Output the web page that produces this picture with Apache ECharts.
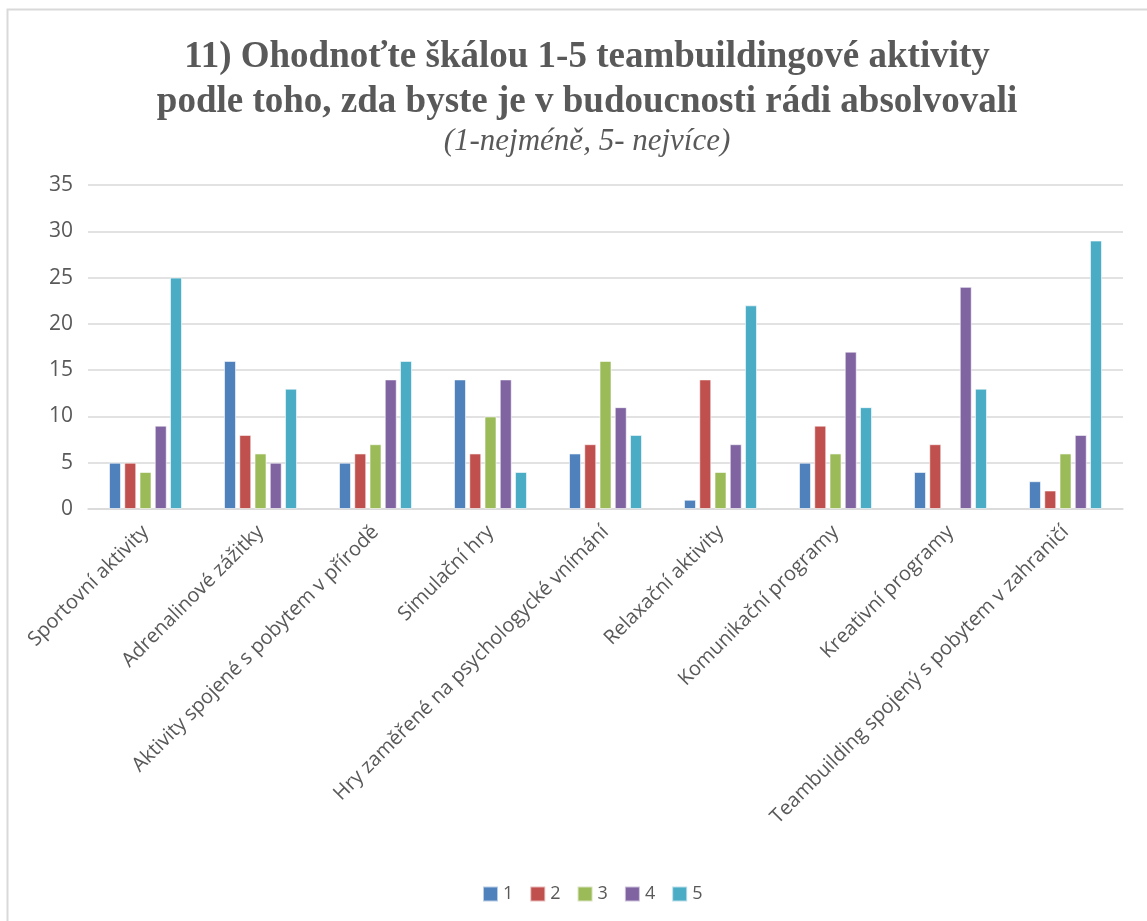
<!DOCTYPE html>
<html>
<head>
<meta charset="utf-8">
<script src="https://cdn.jsdelivr.net/npm/echarts@6/dist/echarts.min.js"></script>
<style>
  html, body { margin: 0; padding: 0; background: #ffffff; }
  #chart { width: 1147px; height: 921px; }
</style>
</head>
<body>
<div id="chart"></div>
<script>
// Activity categories (x axis)
const categories = [
  'Sportovní aktivity',
  'Adrenalinové zážitky',
  'Aktivity spojené s pobytem v přírodě',
  'Simulační hry',
  'Hry zaměřené na psychologycké vnímání',
  'Relaxační aktivity',
  'Komunikační programy',
  'Kreativní programy',
  'Teambuilding spojený s pobytem v zahraničí'
];

// Number of answers per rating (1 = least, 5 = most)
const rating1 = [5, 16, 5, 14, 6, 1, 5, 4, 3];
const rating2 = [5, 8, 6, 6, 7, 14, 9, 7, 2];
const rating3 = [4, 6, 7, 10, 16, 4, 6, null, 6];
const rating4 = [9, 5, 14, 14, 11, 7, 17, 24, 8];
const rating5 = [25, 13, 16, 4, 8, 22, 11, 13, 29];

const seriesNames = ['1', '2', '3', '4', '5'];
const seriesColors = ['#4F81BD', '#C0504D', '#9BBB59', '#8064A2', '#4BACC6'];
const seriesData = [rating1, rating2, rating3, rating4, rating5];

const chart = echarts.init(document.getElementById('chart'), null, { renderer: 'canvas' });

const axisFont = '"Open Sans", "DejaVu Sans", sans-serif';
const serifFont = '"Liberation Serif", "Times New Roman", serif';
const textGray = '#595959';

chart.setOption({
  backgroundColor: '#ffffff',
  animation: false,
  color: seriesColors,
  title: {
    text: '11) Ohodnoťte škálou 1-5 teambuildingové aktivity\npodle toho, zda byste je v budoucnosti rádi absolvovali',
    subtext: '(1-nejméně, 5- nejvíce)',
    left: 582,
    top: 30,
    textAlign: 'center',
    itemGap: 0,
    textStyle: {
      fontFamily: serifFont,
      fontWeight: 'bold',
      fontSize: 37,
      lineHeight: 45,
      color: textGray
    },
    subtextStyle: {
      fontFamily: serifFont,
      fontStyle: 'italic',
      fontSize: 31,
      lineHeight: 34,
      color: textGray
    }
  },
  graphic: [{
    type: 'rect',
    silent: true,
    shape: { x: 7.5, y: 9.5, width: 1160, height: 930 },
    style: { fill: 'none', stroke: '#d9d9d9', lineWidth: 2 }
  }],
  legend: {
    data: seriesNames,
    left: 477,
    top: 880,
    itemWidth: 15,
    itemHeight: 15,
    itemGap: 16,
    icon: 'rect',
    textStyle: { fontFamily: axisFont, fontSize: 18, color: textGray }
  },
  grid: {
    left: 88,
    right: 24,
    top: 185,
    bottom: 412,
    containLabel: false
  },
  xAxis: {
    type: 'category',
    data: categories,
    axisTick: { show: false },
    axisLine: { lineStyle: { color: '#d9d9d9', width: 1.5 } },
    axisLabel: {
      rotate: 45,
      interval: 0,
      margin: 20,
      fontFamily: axisFont,
      fontSize: 20,
      color: textGray
    }
  },
  yAxis: {
    type: 'value',
    min: 0,
    max: 35,
    interval: 5,
    axisLine: { show: false },
    axisTick: { show: false },
    axisLabel: {
      margin: 15,
      fontFamily: axisFont,
      fontSize: 21,
      color: textGray
    },
    splitLine: { lineStyle: { color: '#d9d9d9', width: 1.5 } }
  },
  series: seriesNames.map((name, i) => ({
    name: name,
    type: 'bar',
    data: seriesData[i],
    barWidth: 12,
    barGap: '27%',
    itemStyle: {
      color: seriesColors[i],
      borderColor: 'rgba(255,255,255,0.6)',
      borderWidth: 1
    }
  }))
});
</script>
</body>
</html>
